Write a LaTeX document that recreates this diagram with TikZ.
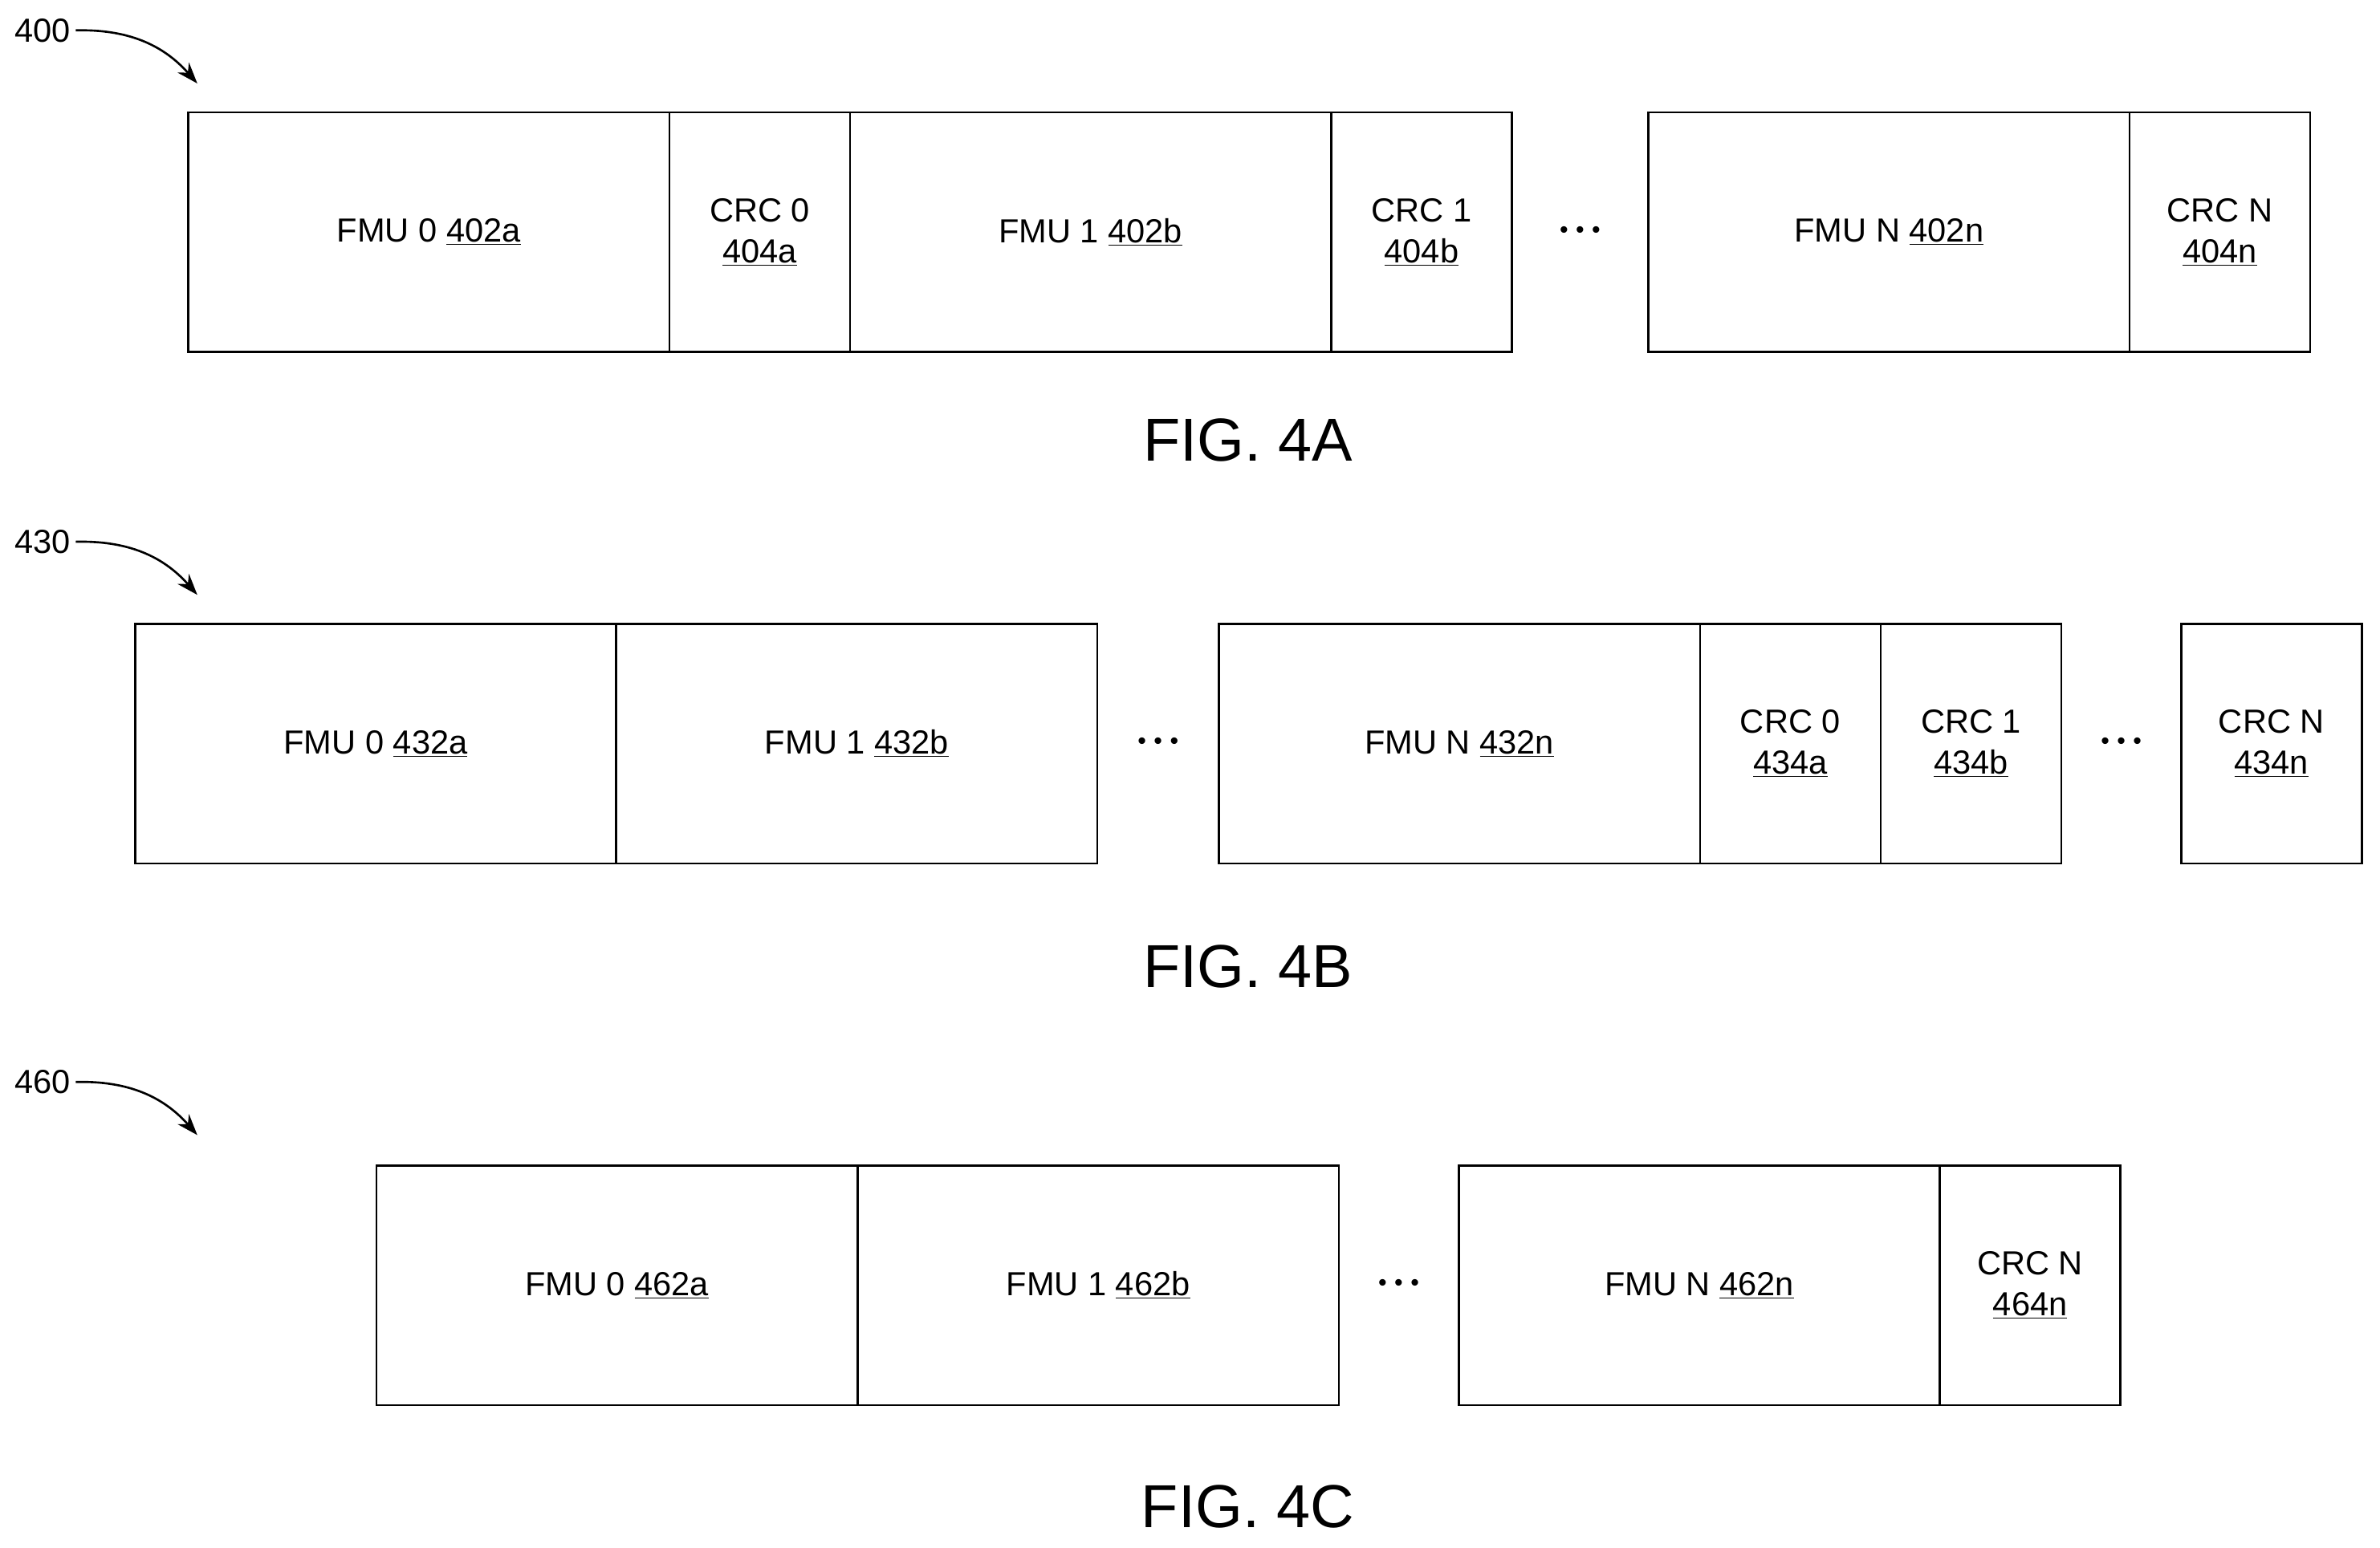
\documentclass[tikz,border=0pt]{standalone}
\usepackage{fontspec}
\setmainfont{Liberation Sans}
\usetikzlibrary{positioning,arrows.meta,calc}
\tikzset{
	cell/.style={draw, line width=1.4pt, outer sep=0pt, minimum height=158pt, inner sep=0pt, align=center,
		font=\fontsize{22}{27}\selectfont},
	fmu/.style={cell, minimum width=317pt},
	crc/.style={cell, minimum width=119pt},
	dots/.style={font=\fontsize{16}{16}\selectfont},
	fig/.style={font=\fontsize{40}{40}\selectfont},
	ref/.style={font=\fontsize{22}{22}\selectfont},
	lead/.style={line width=1.4pt, -{Stealth[length=14pt,width=10pt]}}
}
\newcommand{\threedots}{\textbullet\hspace{5pt}\textbullet\hspace{5pt}\textbullet}

\begin{document}
\begin{tikzpicture}[x=1pt,y=-1pt]
	\useasboundingbox (0,0) rectangle (1568,1020);

	% FIG. 4A
	\node[ref] (r400) at (28,20) {400};
	\coordinate (t400) at (130,55);
	\draw[lead] (r400.east) to[bend left=25] (t400);
	\node[fmu, anchor=north west] (fa0) at (124,74) {FMU 0 \underline{402a}};
	\node[crc, right=0pt of fa0] (ca0) {CRC 0\\\underline{404a}};
	\node[fmu, right=0pt of ca0] (fa1) {FMU 1 \underline{402b}};
	\node[crc, right=0pt of fa1] (ca1) {CRC 1\\\underline{404b}};
	\node[fmu, anchor=north west] (fan) at (1086,74) {FMU N \underline{402n}};
	\node[crc, right=0pt of fan] (can) {CRC N\\\underline{404n}};
	\node[dots] at ($(ca1.east)!0.5!(fan.west)$) {\threedots};
	\node[fig] (figa) at (822,290) {FIG. 4A};

	% FIG. 4B
	\node[ref] (r430) at (28,357) {430};
	\coordinate (t430) at (130,392);
	\draw[lead] (r430.east) to[bend left=25] (t430);
	\node[fmu, anchor=north west] (fb0) at (89,411) {FMU 0 \underline{432a}};
	\node[fmu, right=0pt of fb0] (fb1) {FMU 1 \underline{432b}};
	\node[fmu, anchor=north west] (fbn) at (803,411) {FMU N \underline{432n}};
	\node[crc, right=0pt of fbn] (cb0) {CRC 0\\\underline{434a}};
	\node[crc, right=0pt of cb0] (cb1) {CRC 1\\\underline{434b}};
	\node[crc, anchor=north west] (cbn) at (1437,411) {CRC N\\\underline{434n}};
	\node[dots] at ($(fb1.east)!0.5!(fbn.west)$) {\threedots};
	\node[dots] at ($(cb1.east)!0.5!(cbn.west)$) {\threedots};
	\node[fig] (figb) at (822,637) {FIG. 4B};

	% FIG. 4C
	\node[ref] (r460) at (28,713) {460};
	\coordinate (t460) at (130,748);
	\draw[lead] (r460.east) to[bend left=25] (t460);
	\node[fmu, anchor=north west] (fc0) at (248,768) {FMU 0 \underline{462a}};
	\node[fmu, right=0pt of fc0] (fc1) {FMU 1 \underline{462b}};
	\node[fmu, anchor=north west] (fcn) at (961,768) {FMU N \underline{462n}};
	\node[crc, right=0pt of fcn] (ccn) {CRC N\\\underline{464n}};
	\node[dots] at ($(fc1.east)!0.5!(fcn.west)$) {\threedots};
	\node[fig] (figc) at (822,993) {FIG. 4C};
\end{tikzpicture}
\end{document}
